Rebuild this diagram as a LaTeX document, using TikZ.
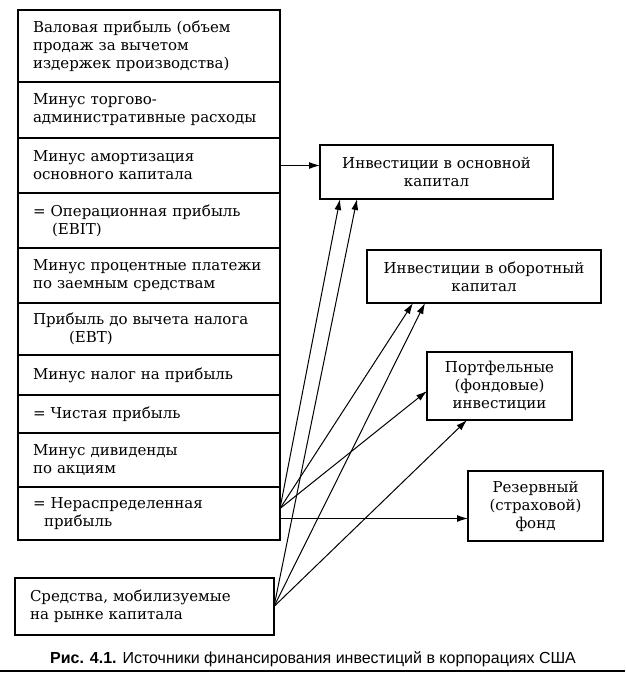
\documentclass[tikz,border=0pt]{standalone}
\usepackage{fontspec}
\setmainfont{DejaVu Serif}
\setsansfont{Liberation Sans}
\usetikzlibrary{positioning,arrows.meta}

\begin{document}
\begin{tikzpicture}[x=1pt,y=-1pt,
        row/.style={
        draw=black, line width=1.3pt,
        text width=232pt, inner xsep=15pt, inner ysep=2pt,
        minimum height=#1, outer sep=0pt,
        align=left, font=\fontsize{15}{18}\selectfont},
        box/.style={
        draw=black, line width=1.3pt, align=center,
        inner sep=2pt, outer sep=0pt, anchor=north west,
        font=\fontsize{15}{18}\selectfont},
        arr/.style={-{Latex[length=11pt,width=7pt]}, line width=1pt},
        ]

        \useasboundingbox (0,0) rectangle (625,680);

        \node (gross) [row=72pt, anchor=north west] at (18,10) {Валовая прибыль (объем\\ продаж за вычетом\\ издержек производства)};
        \node (sga) [row=56pt, below=0pt of gross] {Минус торгово-\\ административные расходы};
        \node (amort) [row=55pt, below=0pt of sga] {Минус амортизация\\ основного капитала};
        \node (ebit) [row=55pt, below=0pt of amort] {= Операционная прибыль\\ \hspace*{19pt}(EBIT)};
        \node (intr) [row=55pt, below=0pt of ebit] {Минус процентные платежи\\ по заемным средствам};
        \node (ebt) [row=52pt, below=0pt of intr] {Прибыль до вычета налога\\ \hspace*{36pt}(EBT)};
        \node (tax) [row=40pt, below=0pt of ebt] {Минус налог на прибыль};
        \node (net) [row=38pt, below=0pt of tax] {= Чистая прибыль};
        \node (div) [row=54pt, below=0pt of net] {Минус дивиденды\\ по акциям};
        \node (ret) [row=53pt, below=0pt of div] {= Нераспределенная\\ \hspace*{11pt}прибыль};

        \node (mkt) [row=57pt, text width=229pt, inner xsep=15pt, anchor=north west] at (15,578) {Средства, мобилизуемые\\ на рынке капитала};

        \node (inv1) [box, minimum width=233pt, minimum height=54pt] at (320,145) {Инвестиции в основной\\ капитал};
        \node (inv2) [box, minimum width=234pt, minimum height=53pt] at (367,250) {Инвестиции в оборотный\\ капитал};
        \node (port) [box, minimum width=145pt, minimum height=68pt] at (427,352) {Портфельные\\ (фондовые)\\ инвестиции};
        \node (res) [box, minimum width=135pt, minimum height=70pt] at (468,471) {Резервный\\ (страховой)\\ фонд};

        \coordinate (rp) at ([yshift=5pt]ret.east);
        \coordinate (rq) at ([yshift=-5pt]ret.east);

        \draw[arr] (amort.east) -- (amort.east -| inv1.west);
        \draw[arr] (rp) -- ([xshift=20pt]inv1.south west);
        \draw[arr] (rp) -- ([xshift=46pt]inv2.south west);
        \draw[arr] (rp) -- ([yshift=-5pt]port.west);
        \draw[arr] (rq) -- (rq -| res.west);
        \draw[arr] (mkt.east) -- ([xshift=37pt]inv1.south west);
        \draw[arr] (mkt.east) -- ([xshift=58pt]inv2.south west);
        \draw[arr] (mkt.east) -- ([xshift=40pt]port.south west);

        \node (cap) at (313,659) {\sffamily\fontsize{16}{18}\selectfont\textbf{Рис. 4.1.} Источники финансирования инвестиций в корпорациях США};
        \draw[line width=1.5pt] (0,671) -- (625,671);
\end{tikzpicture}
\end{document}
